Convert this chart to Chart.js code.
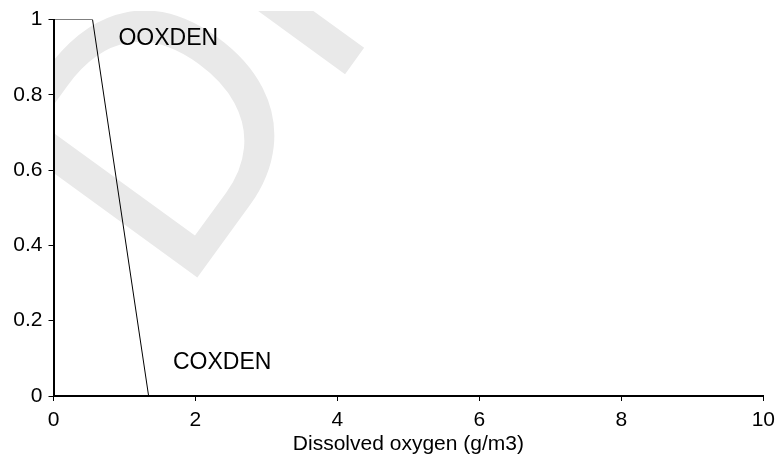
<!DOCTYPE html>
<html>
<head>
<meta charset="utf-8">
<script src="https://cdn.jsdelivr.net/npm/chart.js@4.4.1/dist/chart.umd.min.js"></script>
<style>
  html, body { margin: 0; padding: 0; background: #ffffff; }
  #wrap { width: 782px; height: 457px; position: relative; }
</style>
</head>
<body>
<div id="wrap"><canvas id="c"></canvas></div>
<script>
// ---- data ----
const oxygenValues = [0, 0.55, 1.34];      // Dissolved oxygen (g/m3)
const factorValues = [1, 1, 0];            // factor value
const labelTexts = ['OOXDEN', 'COXDEN'];
const labelX = [0.915, 1.683];
const labelY = [0.932, 0.072];
const xTickStep = 2;
const yTickStep = 0.2;
const xTitle = 'Dissolved oxygen (g/m3)';
const watermarkText = 'DRAFT';

const FONT = '"Liberation Sans", Arial, sans-serif';

const points = oxygenValues.map((x, i) => ({ x: x, y: factorValues[i] }));

const watermarkPlugin = {
  id: 'watermark',
  beforeDraw(chart) {
    const ca = chart.chartArea;
    const ctx = chart.ctx;
    ctx.save();
    ctx.beginPath();
    ctx.rect(ca.left, ca.top - 8.5, ca.right - ca.left, ca.bottom - ca.top + 8.5);
    ctx.clip();
    ctx.translate(196.7, 278.3);
    ctx.rotate(-54 * Math.PI / 180);
    ctx.scale(3.48, 3.55);
    ctx.font = '100px ' + FONT;
    ctx.fillStyle = '#e9e9e9';
    ctx.textBaseline = 'alphabetic';
    ctx.textAlign = 'left';
    ctx.fillText(watermarkText, -7.9, 0);
    ctx.restore();
  }
};

const labelPlugin = {
  id: 'curveLabels',
  afterDatasetsDraw(chart) {
    const ctx = chart.ctx;
    const xs = chart.scales.x, ys = chart.scales.y;
    ctx.save();
    ctx.font = '23px ' + FONT;
    ctx.fillStyle = '#000';
    ctx.textBaseline = 'alphabetic';
    ctx.textAlign = 'left';
    labelTexts.forEach((t, i) => {
      ctx.fillText(t, xs.getPixelForValue(labelX[i]), ys.getPixelForValue(labelY[i]));
    });
    ctx.restore();
  }
};

new Chart(document.getElementById('c'), {
  type: 'line',
  data: {
    datasets: [{
      data: points,
      borderColor: '#000',
      borderWidth: 1,
      pointRadius: 0,
      tension: 0,
      fill: false
    }]
  },
  options: {
    responsive: true,
    maintainAspectRatio: false,
    animation: false,
    devicePixelRatio: 1,
    layout: { padding: { top: 19.5, right: 12.5, left: 0, bottom: 0 } },
    plugins: { legend: { display: false }, tooltip: { enabled: false } },
    scales: {
      x: {
        type: 'linear',
        min: 0, max: 10,
        ticks: { stepSize: xTickStep, color: '#000', font: { family: FONT, size: 21 }, padding: 7, maxRotation: 0 },
        grid: { drawOnChartArea: false, drawTicks: true, tickLength: 5, color: '#000', lineWidth: 1 },
        border: { display: true, color: '#000', width: 2 },
        title: { display: true, text: xTitle, color: '#000', font: { family: FONT, size: 21 }, padding: { top: 0, bottom: 0 } },
        afterFit(s) { s.height = 61; }
      },
      y: {
        type: 'linear',
        min: 0, max: 1,
        ticks: {
          stepSize: yTickStep, color: '#000', font: { family: FONT, size: 21 }, padding: 6,
          callback: (v) => String(Math.round(v * 10) / 10)
        },
        grid: { drawOnChartArea: false, drawTicks: true, tickLength: 5, color: '#000', lineWidth: 1 },
        border: { display: true, color: '#000', width: 2 },
        afterFit(s) { s.width = 53.5; }
      }
    }
  },
  plugins: [watermarkPlugin, labelPlugin]
});
</script>
</body>
</html>
